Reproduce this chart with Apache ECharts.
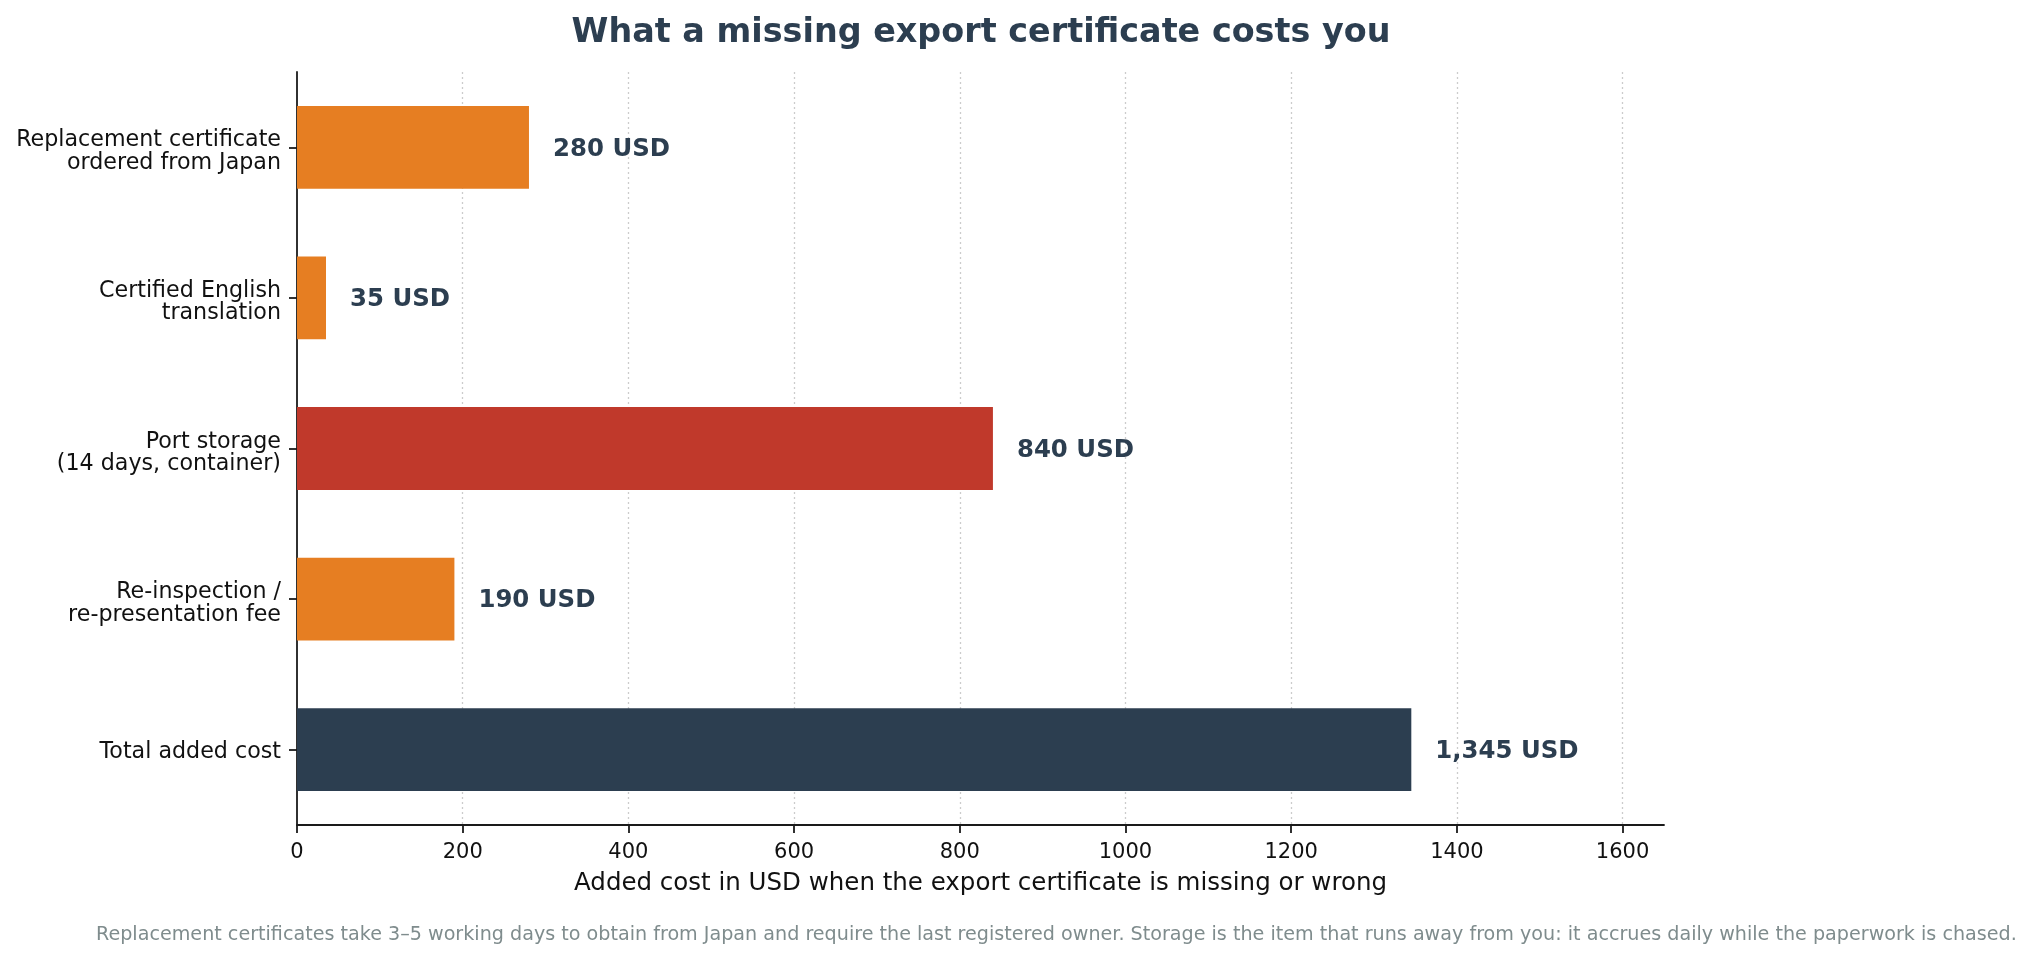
<!DOCTYPE html>
<html>
<head>
<meta charset="utf-8">
<script src="https://cdn.jsdelivr.net/npm/echarts@6/dist/echarts.min.js"></script>
<style>
  html, body { margin: 0; padding: 0; background: #fff; }
  #chart { width: 2032px; height: 958px; }
</style>
</head>
<body>
<div id="chart"></div>
<script>
const categories = [
  'Replacement certificate\nordered from Japan',
  'Certified English\ntranslation',
  'Port storage\n(14 days, container)',
  'Re-inspection /\nre-presentation fee',
  'Total added cost'
]
const costs = [280, 35, 840, 190, 1345]
const barColors = ['#e67e22', '#e67e22', '#c0392b', '#e67e22', '#2c3e50']
const xTicks = [0, 200, 400, 600, 800, 1000, 1200, 1400, 1600]

const font = 'DejaVu Sans'
const chart = echarts.init(document.getElementById('chart'))

// matplotlib sits tick labels a touch lower than echarts: push them down with a thin spacer line
const yLabel = (v) => {
  const lines = v.split('\n')
  const spacer = lines.length > 1 ? '{s2| }' : '{s1| }'
  return spacer + '\n' + lines.map((l) => '{a|' + l + '}').join('\n')
}

chart.setOption({
  animation: false,
  textStyle: { fontFamily: font },
  title: [
    {
      text: 'What a missing export certificate costs you',
      left: 976,
      textAlign: 'center',
      top: 12,
      textStyle: { fontFamily: font, fontSize: 33.4, fontWeight: 'bold', color: '#2c3e50' }
    },
    {
      text: 'Replacement certificates take 3\u20135 working days to obtain from Japan and require the last registered owner. Storage is the item that runs away from you: it accrues daily while the paperwork is chased.',
      left: 91,
      top: 921,
      textStyle: { fontFamily: font, fontSize: 19.15, fontWeight: 'normal', color: '#7f8c8d' }
    }
  ],
  grid: { left: 297, right: 368, top: 72, bottom: 133, containLabel: false },
  xAxis: {
    type: 'value',
    min: 0,
    max: 1650,
    interval: 200,
    name: 'Added cost in USD when the export certificate is missing or wrong',
    nameLocation: 'middle',
    nameGap: 46,
    nameTextStyle: { fontFamily: font, fontSize: 24.5, color: '#111' },
    axisLine: { show: true, lineStyle: { color: '#1a1a1a', width: 1.8 } },
    axisTick: { show: true, length: 8, lineStyle: { color: '#1a1a1a', width: 1.8 }, customValues: xTicks },
    axisLabel: {
      fontFamily: font, fontSize: 21, color: '#111', margin: 17,
      customValues: xTicks,
      formatter: (v) => String(v)
    },
    splitLine: {
      show: true,
      showMinLine: false,
      lineStyle: { color: '#cccccc', width: 1.3, type: [2, 3] }
    }
  },
  yAxis: {
    type: 'category',
    data: categories,
    inverse: true,
    axisLine: { show: true, lineStyle: { color: '#1a1a1a', width: 1.8 } },
    axisTick: { show: true, alignWithLabel: true, length: 8, lineStyle: { color: '#1a1a1a', width: 1.8 } },
    axisLabel: {
      margin: 16,
      align: 'right',
      formatter: yLabel,
      rich: {
        a: { fontFamily: font, fontSize: 22.2, lineHeight: 22.5, color: '#111', align: 'right' },
        s1: { fontSize: 1, lineHeight: 5 },
        s2: { fontSize: 1, lineHeight: 9 }
      }
    },
    splitLine: { show: false }
  },
  series: [{
    type: 'bar',
    barWidth: '55%',
    data: costs.map((v, i) => ({ value: v, itemStyle: { color: barColors[i] } })),
    label: {
      show: true,
      position: 'right',
      distance: 24,
      offset: [0, 2],
      fontFamily: font,
      fontSize: 24.4,
      fontWeight: 'bold',
      color: '#2c3e50',
      formatter: (p) => p.value.toLocaleString('en-US') + ' USD'
    }
  }]
})
</script>
</body>
</html>
